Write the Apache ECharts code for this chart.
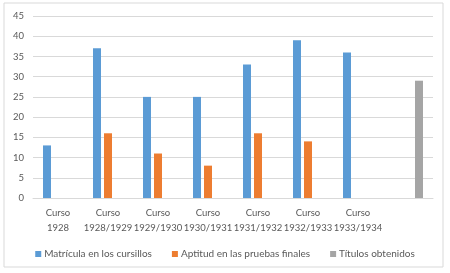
<!DOCTYPE html>
<html lang="es">
<head>
<meta charset="UTF-8">
<title>Cursillos</title>
<script src="https://cdn.jsdelivr.net/npm/echarts@6/dist/echarts.min.js"></script>
<style>
  body { margin: 0; background: #fff; }
</style>
</head>
<body>
<div id="main" style="width:450px;height:273px;"></div>
<script>
const categories = ['Curso\n1928', 'Curso\n1928/1929', 'Curso\n1929/1930', 'Curso\n1930/1931',
  'Curso\n1931/1932', 'Curso\n1932/1933', 'Curso\n1933/1934', ''];
const matricula = [13, 37, 25, 25, 33, 39, 36, '-'];
const aptitud = ['-', 16, 11, 8, 16, 14, '-', '-'];
const titulos = ['-', '-', '-', '-', '-', '-', '-', 29];
const yTicks = [0, 45, 5];

const font = 'Lato, "Open Sans", sans-serif';
const chart = echarts.init(document.getElementById('main'));
chart.setOption({
  animation: false,
  textStyle: { fontFamily: font },
  graphic: [{
    type: 'rect',
    shape: { x: 4, y: 3, width: 439, height: 264 },
    style: { fill: 'none', stroke: '#d9d9d9', lineWidth: 1 }
  }],
  grid: { left: 33, right: 17, top: 16, bottom: 75 },
  legend: {
    top: 244,
    left: 'center',
    itemWidth: 6,
    itemHeight: 6,
    itemGap: 20,
    icon: 'rect',
    textStyle: { color: '#595959', fontSize: 10, fontFamily: font, padding: [0, 0, 0, -2] }
  },
  xAxis: {
    type: 'category',
    data: categories,
    axisLine: { lineStyle: { color: '#d9d9d9' } },
    axisTick: { show: false },
    axisLabel: { color: '#595959', fontSize: 9.5, lineHeight: 15, interval: 0, margin: 7 }
  },
  yAxis: {
    type: 'value',
    min: yTicks[0], max: yTicks[1], interval: yTicks[2],
    axisLine: { show: false },
    axisTick: { show: false },
    splitLine: { lineStyle: { color: '#d9d9d9' } },
    axisLabel: { color: '#595959', fontSize: 9.5, margin: 9 }
  },
  series: [
    { name: 'Matrícula en los cursillos', type: 'bar', data: matricula, barWidth: 8, barGap: '37.5%', itemStyle: { color: '#5b9bd5' } },
    { name: 'Aptitud en las pruebas finales', type: 'bar', data: aptitud, barWidth: 8, barGap: '37.5%', itemStyle: { color: '#ed7d31' } },
    { name: 'Títulos obtenidos', type: 'bar', data: titulos, barWidth: 8, barGap: '37.5%', itemStyle: { color: '#a5a5a5' } }
  ]
});
</script>
</body>
</html>
